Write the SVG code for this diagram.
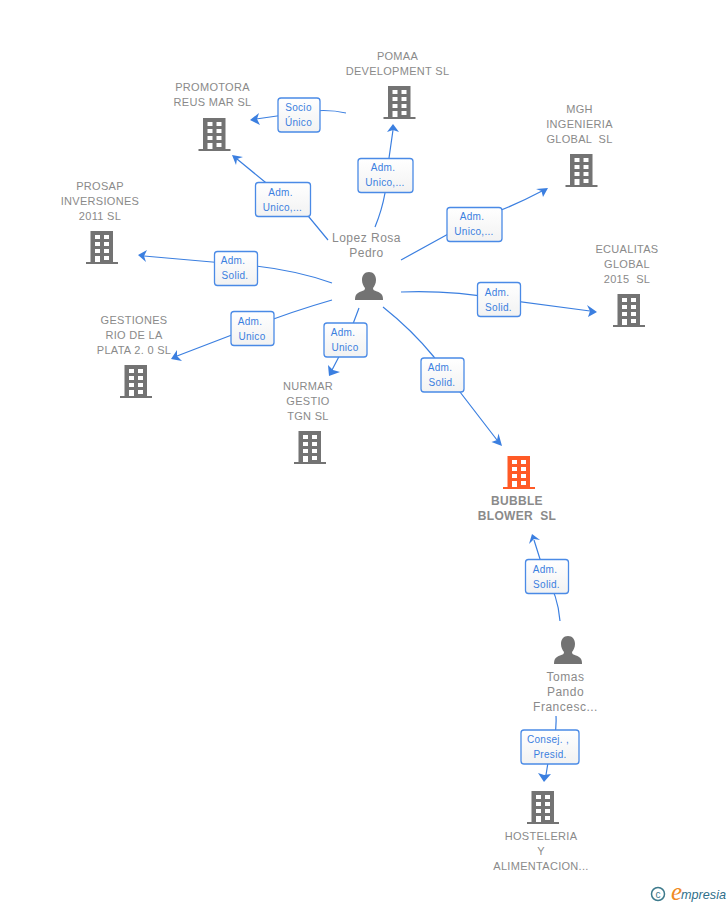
<svg xmlns="http://www.w3.org/2000/svg" xmlns:xlink="http://www.w3.org/1999/xlink" width="728" height="905" viewBox="0 0 728 905">
<style>
text{white-space:pre}
.n{font:11px "Liberation Sans",Arial,sans-serif;fill:#8a8a8a;text-anchor:middle;letter-spacing:.3px}
.nb{font-weight:bold;font-size:12px}
.p{font:12px "Liberation Sans",Arial,sans-serif;fill:#8a8a8a;text-anchor:middle;letter-spacing:.5px}
.l{font:10px "Liberation Sans",Arial,sans-serif;fill:#3b7fe0;text-anchor:middle;letter-spacing:.3px}
.b{fill:#fff;stroke:#4a8ae6;stroke-width:1.3}
.c{fill:none;stroke:#3b7fe0;stroke-width:1.2}
.a{fill:#3b7fe0}
</style>
<defs>
<linearGradient id="g" x1="0" y1="0" x2="0" y2="1"><stop offset="0" stop-color="#fff"/><stop offset="1" stop-color="#f2f2f2"/></linearGradient>
<path id="bld" fill-rule="evenodd" d="M-11.500-33H11V-2H16V0H-16V-2H-11.500ZM-7-29V-25H-2V-29ZM2-29V-25H7V-29ZM-7-22V-18H-2V-22ZM2-22V-18H7V-22ZM-7-15V-11H-2V-15ZM2-15V-11H7V-15ZM-7-8V-2H-2V-8ZM2-8V-4H7V-8Z"/>
<path id="psn" d="M0 0C4.500 0 7 3.500 7 8C7 11.500 5.500 14 4 16C4 18 5 18.500 8 19.500C12 21 14 22.500 14 28H-14C-14 22.500-12 21-8 19.500C-5 18.500-4 18-4 16C-5.500 14-7 11.500-7 8C-7 3.500-4.500 0 0 0Z"/>
</defs>
<g id="connectors">
<path class="c" d="M346 113Q325 108 298 113L256 119"/><path class="a" d="M250 120L259 113L257 119L260 125Z"/>
<path class="c" d="M328 240L309 217L265 182L237 159"/><path class="a" d="M232 155L243 157L237 159L236 165Z"/>
<path class="c" d="M375 227Q382 210 385 193L389 158L393 130"/><path class="a" d="M393 124L399 132L393 130L387 132Z"/>
<path class="c" d="M401 260L470 222Q510 208 542 191"/><path class="a" d="M548 188L543 197L541.500 191L536 189Z"/>
<path class="c" d="M401 292Q450 290 500 299L590 311"/><path class="a" d="M597 312L588 317L590 311L587 305Z"/>
<path class="c" d="M332 283Q290 268 235 264L144 256"/><path class="a" d="M138 255L147 250L144 256L146 262Z"/>
<path class="c" d="M332 300Q290 312 250 328L177 356"/><path class="a" d="M171 359L177 350L177 356L182 361Z"/>
<path class="c" d="M359 308L345 345L332 370"/><path class="a" d="M329 376L328 365L333 370L340 372Z"/>
<path class="c" d="M383 307Q412 330 434 357L460 392L497 440"/><path class="a" d="M502 446L491.500 442L497 440L498.500 433.500Z"/>
<path class="c" d="M560 621Q558 595 545 575L534 540"/><path class="a" d="M532 534L540 540L534 539L529 544Z"/>
<path class="c" d="M556 716Q557 735 550 750L546 775"/><path class="a" d="M544 782L538 773L544 775L551 774Z"/>
</g>
<g id="edge-labels">
<g><rect class="b" style="fill:url(#g)" x="278" y="98" width="42" height="34" rx="3"/><text class="l" x="298.500" y="111">Socio</text><text class="l" x="298.500" y="126">Único</text></g>
<g><rect class="b" style="fill:url(#g)" x="255.500" y="182.500" width="55" height="34" rx="3"/><text class="l" x="280.500" y="196">Adm.</text><text class="l" x="282.500" y="211">Unico,...</text></g>
<g><rect class="b" style="fill:url(#g)" x="358" y="158.500" width="55" height="34" rx="3"/><text class="l" x="383" y="171">Adm.</text><text class="l" x="385" y="186">Unico,...</text></g>
<g><rect class="b" style="fill:url(#g)" x="447" y="207.500" width="55" height="34" rx="3"/><text class="l" x="472" y="220">Adm.</text><text class="l" x="474" y="235">Unico,...</text></g>
<g><rect class="b" style="fill:url(#g)" x="477.500" y="282.500" width="43" height="34" rx="3"/><text class="l" x="497" y="296">Adm.</text><text class="l" x="498.500" y="311">Solid.</text></g>
<g><rect class="b" style="fill:url(#g)" x="214.500" y="251.500" width="43" height="34" rx="3"/><text class="l" x="233" y="264">Adm.</text><text class="l" x="235" y="279">Solid.</text></g>
<g><rect class="b" style="fill:url(#g)" x="231" y="311.500" width="43" height="34" rx="3"/><text class="l" x="250" y="325">Adm.</text><text class="l" x="252" y="340">Unico</text></g>
<g><rect class="b" style="fill:url(#g)" x="324" y="323" width="43" height="34" rx="3"/><text class="l" x="343" y="336">Adm.</text><text class="l" x="345" y="351">Unico</text></g>
<g><rect class="b" style="fill:url(#g)" x="421" y="358" width="43" height="34" rx="3"/><text class="l" x="440" y="371">Adm.</text><text class="l" x="442" y="386">Solid.</text></g>
<g><rect class="b" style="fill:url(#g)" x="525.500" y="559.500" width="43" height="34" rx="3"/><text class="l" x="545" y="573">Adm.</text><text class="l" x="546.500" y="588">Solid.</text></g>
<g><rect class="b" style="fill:url(#g)" x="521" y="730" width="58" height="34" rx="3"/><text class="l" x="548" y="743">Consej. ,</text><text class="l" x="550" y="758">Presid.</text></g>
</g>
<g id="promotora"><use href="#bld" x="214.500" y="151" fill="#737373"/><text class="n" x="212.500" y="91">PROMOTORA</text><text class="n" x="212.500" y="106">REUS MAR SL</text></g>
<g id="pomaa"><use href="#bld" x="399.500" y="119" fill="#737373"/><text class="n" x="397.500" y="60">POMAA</text><text class="n" x="397.500" y="75">DEVELOPMENT SL</text></g>
<g id="mgh"><use href="#bld" x="581.500" y="187" fill="#737373"/><text class="n" x="579.500" y="113">MGH</text><text class="n" x="579.500" y="128">INGENIERIA</text><text class="n" x="579.500" y="143">GLOBAL  SL</text></g>
<g id="ecualitas"><use href="#bld" x="629" y="327" fill="#737373"/><text class="n" x="627" y="253">ECUALITAS</text><text class="n" x="627" y="268">GLOBAL</text><text class="n" x="627" y="283">2015  SL</text></g>
<g id="prosap"><use href="#bld" x="102" y="264" fill="#737373"/><text class="n" x="100" y="190">PROSAP</text><text class="n" x="100" y="205">INVERSIONES</text><text class="n" x="100" y="220">2011 SL</text></g>
<g id="gestiones"><use href="#bld" x="136" y="398" fill="#737373"/><text class="n" x="134" y="324">GESTIONES</text><text class="n" x="134" y="339">RIO DE LA</text><text class="n" x="134" y="354">PLATA 2. 0 SL</text></g>
<g id="nurmar"><use href="#bld" x="310" y="464" fill="#737373"/><text class="n" x="308" y="390">NURMAR</text><text class="n" x="308" y="405">GESTIO</text><text class="n" x="308" y="420">TGN SL</text></g>
<g id="bubble"><use href="#bld" x="519" y="489" fill="#ff5a26"/><text class="n nb" x="517" y="505">BUBBLE</text><text class="n nb" x="517" y="520">BLOWER  SL</text></g>
<g id="hosteleria"><use href="#bld" x="543" y="824" fill="#737373"/><text class="n" x="541" y="840">HOSTELERIA</text><text class="n" x="541" y="855">Y</text><text class="n" x="541" y="870">ALIMENTACION...</text></g>
<g id="lopez"><use href="#psn" x="369" y="272" fill="#737373"/><text class="p" x="366.500" y="242">Lopez Rosa</text><text class="p" x="366.500" y="257">Pedro</text></g>
<g id="tomas"><use href="#psn" x="568" y="636" fill="#737373"/><text class="p" x="565.500" y="681">Tomas</text><text class="p" x="565.500" y="696">Pando</text><text class="p" x="565.500" y="711">Francesc...</text></g>
<g id="logo"><circle cx="658" cy="894" r="6.500" fill="none" stroke="#3d7a8c" stroke-width="1.500"/><text x="658" y="897.500" font-family="Liberation Sans,sans-serif" font-size="10" fill="#3d7a8c" text-anchor="middle">c</text><text x="671" y="900" font-family="Liberation Serif,serif" font-style="italic" font-size="25" fill="#f08a24">e</text><text x="681" y="899" font-family="Liberation Sans,sans-serif" font-style="italic" font-size="13" fill="#2f6f8a" textLength="45" lengthAdjust="spacingAndGlyphs">mpresia</text></g>
</svg>
